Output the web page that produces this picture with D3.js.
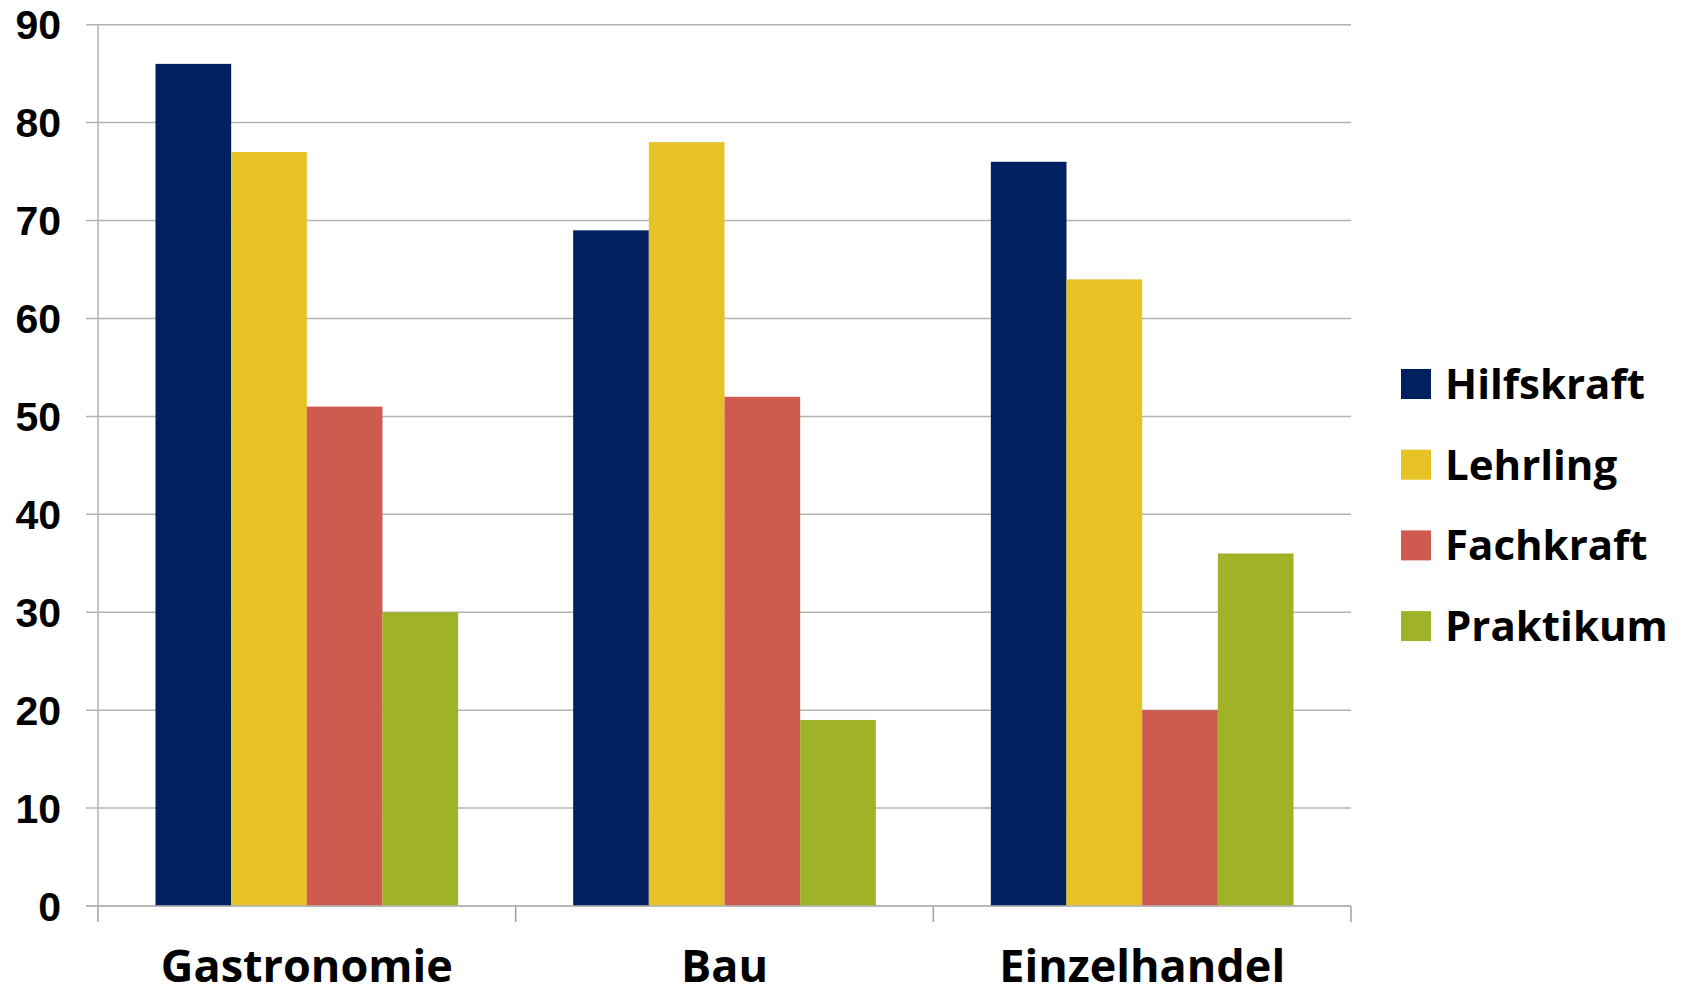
<!DOCTYPE html>
<html>
<head>
<meta charset="utf-8">
<script src="https://cdn.jsdelivr.net/npm/d3@7"></script>
<style>
  body { margin: 0; background: #fff; }
  svg { display: block; }
</style>
</head>
<body>
<script>
// data
var categories = ["Gastronomie", "Bau", "Einzelhandel"];
var seriesNames = ["Hilfskraft", "Lehrling", "Fachkraft", "Praktikum"];
var hilfskraft = [86, 69, 76];
var lehrling = [77, 78, 64];
var fachkraft = [51, 52, 20];
var praktikum = [30, 19, 36];
var yTicks = [0, 10, 20, 30, 40, 50, 60, 70, 80, 90];
var colors = ["#00205f", "#e6c224", "#cf5a50", "#a0b328"];

var values = [hilfskraft, lehrling, fachkraft, praktikum];

var w = 1685, h = 995;
var plotLeft = 98, plotRight = 1351, plotTop = 24.7, plotBottom = 906;

var svg = d3.select("body").append("svg")
  .attr("width", w)
  .attr("height", h);

var x = d3.scaleBand()
  .domain(categories)
  .range([plotLeft, plotRight]);

var inner = d3.scaleBand()
  .domain(seriesNames)
  .range([0, x.bandwidth()])
  .paddingOuter(0.76)
  .paddingInner(0);

var y = d3.scaleLinear()
  .domain([0, 90])
  .range([plotBottom, plotTop]);

// gridlines
svg.append("g")
  .selectAll("line")
  .data(yTicks)
  .enter()
  .append("line")
  .attr("x1", plotLeft - 12)
  .attr("x2", plotRight)
  .attr("y1", function(d) { return y(d); })
  .attr("y2", function(d) { return y(d); })
  .attr("stroke", "#b3b3b3")
  .attr("stroke-width", 1.5);

// y axis line
svg.append("line")
  .attr("x1", plotLeft).attr("x2", plotLeft)
  .attr("y1", plotTop).attr("y2", plotBottom)
  .attr("stroke", "#b3b3b3")
  .attr("stroke-width", 1.5);

// x ticks at category boundaries
var bounds = categories.map(function(c) { return x(c); }).concat([plotRight]);
svg.append("g")
  .selectAll("line")
  .data(bounds)
  .enter()
  .append("line")
  .attr("x1", function(d) { return d; })
  .attr("x2", function(d) { return d; })
  .attr("y1", plotBottom)
  .attr("y2", plotBottom + 16)
  .attr("stroke", "#a0a0a0")
  .attr("stroke-width", 1.5);

// bars
seriesNames.forEach(function(s, si) {
  svg.append("g")
    .selectAll("rect")
    .data(values[si])
    .enter()
    .append("rect")
    .attr("x", function(d, i) { return x(categories[i]) + inner(s); })
    .attr("width", inner.bandwidth())
    .attr("y", function(d) { return y(d); })
    .attr("height", function(d) { return y(0) - y(d); })
    .attr("fill", colors[si]);
});

// x axis line on top of bars
svg.append("line")
  .attr("x1", plotLeft - 12).attr("x2", plotRight)
  .attr("y1", plotBottom).attr("y2", plotBottom)
  .attr("stroke", "#b3b3b3")
  .attr("stroke-width", 1.5);

// y labels
svg.append("g")
  .selectAll("text")
  .data(yTicks)
  .enter()
  .append("text")
  .attr("x", 61)
  .attr("y", function(d) { return y(d) + 14.5; })
  .attr("text-anchor", "end")
  .style("font-family", "'Liberation Sans', Arial, sans-serif")
  .style("font-weight", "bold")
  .style("font-size", "41px")
  .attr("fill", "#000")
  .text(function(d) { return d; });

// category labels
svg.append("g")
  .selectAll("text")
  .data(categories)
  .enter()
  .append("text")
  .attr("x", function(d) { return x(d) + x.bandwidth() / 2; })
  .attr("y", 982)
  .attr("text-anchor", "middle")
  .style("font-family", "'Open Sans', Lato, sans-serif")
  .style("font-weight", "bold")
  .style("font-size", "45px")
  .attr("fill", "#000")
  .text(function(d) { return d; });

// legend
var legend = svg.append("g")
  .selectAll("g")
  .data(seriesNames)
  .enter()
  .append("g")
  .attr("transform", function(d, i) { return "translate(1401," + (369 + i * 80.7) + ")"; });

legend.append("rect")
  .attr("width", 30)
  .attr("height", 30)
  .attr("fill", function(d, i) { return colors[i]; });

legend.append("text")
  .attr("x", 44)
  .attr("y", 30)
  .style("font-family", "'Open Sans', Lato, sans-serif")
  .style("font-weight", "bold")
  .style("font-size", "42px")
  .attr("fill", "#000")
  .text(function(d) { return d; });
</script>
</body>
</html>
